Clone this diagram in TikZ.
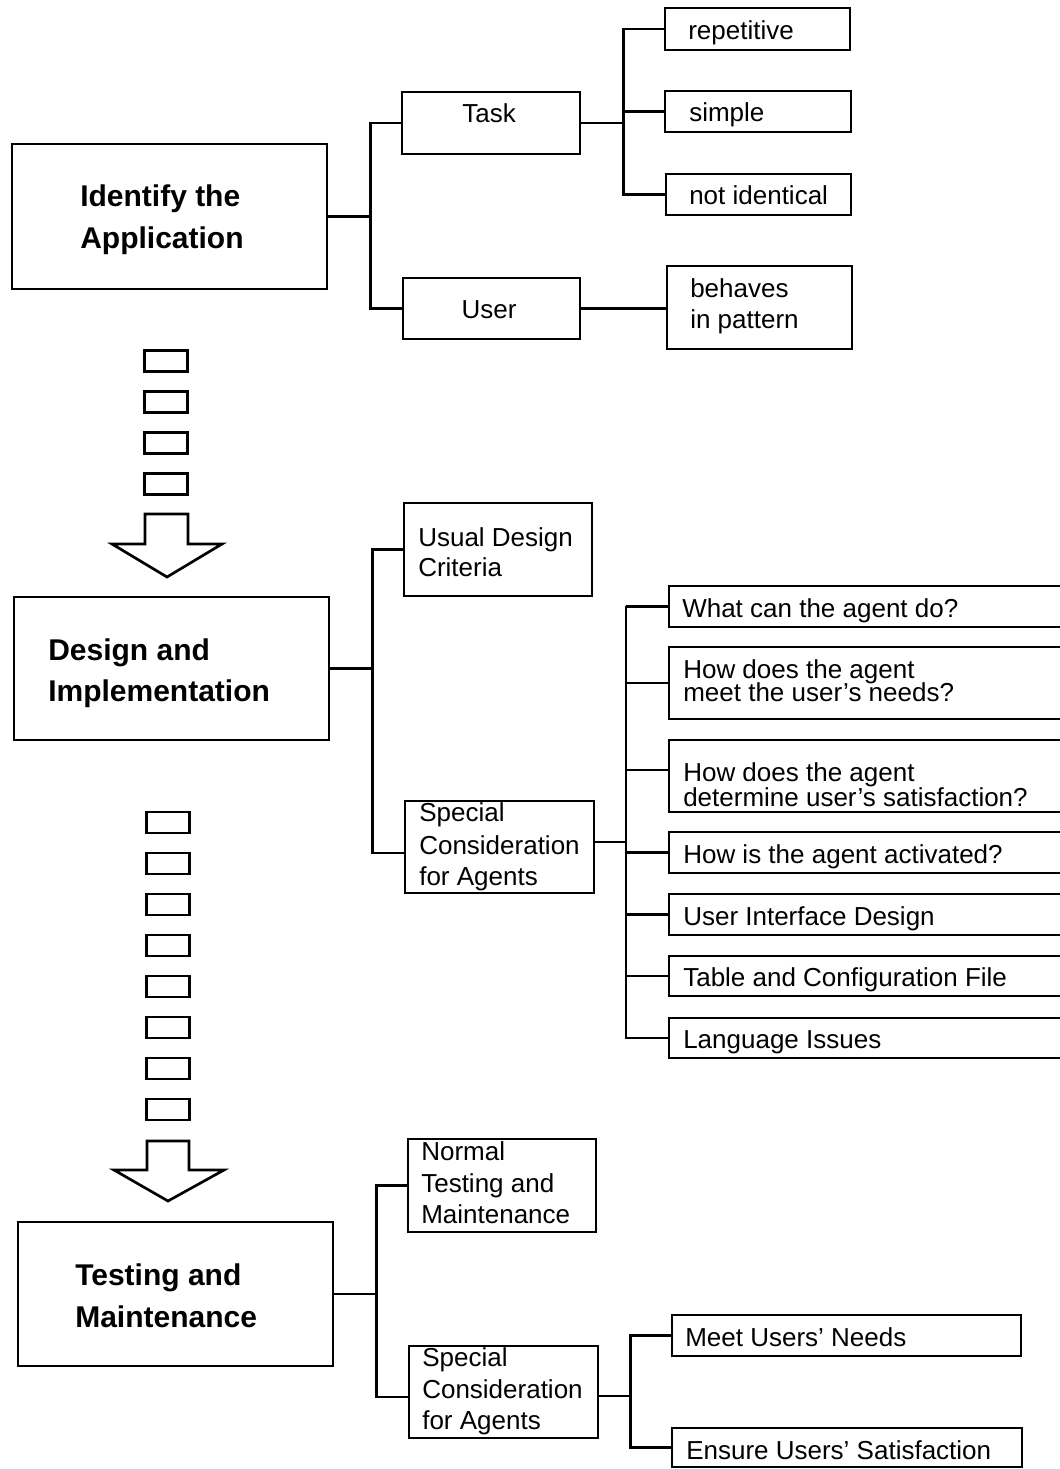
\documentclass[tikz,border=0pt]{standalone}
\usepackage{fontspec}
\setmainfont{Liberation Sans}
\usetikzlibrary{fit}
\begin{document}
\begin{tikzpicture}[x=0.75pt,y=-0.75pt,
  lw/.style={line width=2pt},
  box/.style={draw, lw, inner sep=0pt},
  txt/.style={inner sep=0pt, anchor=base west, font=\fontsize{19.5pt}{23pt}\selectfont},
  ctxt/.style={txt, anchor=base},
  ttl/.style={inner sep=0pt, anchor=base west, font=\fontsize{22.5pt}{27pt}\selectfont\bfseries},
  wire/.style={lw},
  gapbox/.style={draw, lw, minimum width=32.25pt, minimum height=15.75pt, inner sep=0pt},
  bigarrow/.style={draw, lw, line join=miter, fill=white}
]
% page
\fill[white] (0,0) rectangle (1059,1469);
\useasboundingbox (0,0) rectangle (1059,1469);

% ---------- stage 1: identify the application ----------
\node[box, fit={(12,144) (327,289)}] (ident) {};
\node[ttl] (ident-a) at (80,207) {Identify the};
\node[ttl] (ident-b) at (80,249) {Application};

\node[box, fit={(402,92) (580,154)}] (task) {};
\node[ctxt] (task-t) at (489,123) {Task};
\node[box, fit={(403,278) (580,339)}] (user) {};
\node[ctxt] (user-t) at (489,319) {User};

\node[box, fit={(665,8) (850,50)}] (rep) {};
\node[txt] (rep-t) at (688,40) {repetitive};
\node[box, fit={(665,91) (851,132)}] (simple) {};
\node[txt] (simple-t) at (689,122) {simple};
\node[box, fit={(666,174) (851,215)}] (noti) {};
\node[txt] (noti-t) at (689,205) {not identical};
\node[box, fit={(667,266) (852,349)}] (beh) {};
\node[txt] (beh-a) at (690,298) {behaves};
\node[txt] (beh-b) at (690,329) {in pattern};

\draw[wire] (ident.east) -- ++(42,0) coordinate (j1);
\draw[wire] (task.west) -| (j1) |- (user.west);
\draw[wire] (task.east) -- ++(42,0) coordinate (j2);
\draw[wire] (rep.west) -| (j2) |- (noti.west);
\draw[wire] (simple.west) -- (simple.west -| j2);
\draw[wire] (user.east) -- (user.east -| beh.west);

% ---------- transition 1 ----------
\foreach \i in {0,...,3}
  \node[gapbox] (ga\i) at (166,{361+41*\i}) {};
\draw[bigarrow] (145,514) -- (188,514) -- (188,544) -- (222,544) -- (167,577)
  -- (112,544) -- (145,544) -- cycle;

% ---------- stage 2: design and implementation ----------
\node[box, fit={(14,597) (329,740)}] (design) {};
\node[ttl] (design-a) at (48,660) {Design and};
\node[ttl] (design-b) at (48,701) {Implementation};

\node[box, fit={(404,503) (592,596)}] (usual) {};
\node[txt] (usual-a) at (418,546) {Usual Design};
\node[txt] (usual-b) at (418,576) {Criteria};

\node[box, fit={(405,801) (594,893)}] (spec1) {};
\node[txt] (spec1-a) at (419,821) {Special};
\node[txt] (spec1-b) at (419,854) {Consideration};
\node[txt] (spec1-c) at (419,885) {for Agents};

\node[box, fit={(669,586) (1066,627)}] (what) {};
\node[txt] (what-t) at (682,617) {What can the agent do?};
\node[box, fit={(669,647) (1066,719)}] (howa) {};
\node[txt] (howa-a) at (683,678) {How does the agent};
\node[txt] (howa-b) at (683,701) {meet the user’s needs?};
\node[box, fit={(669,740) (1066,812)}] (howb) {};
\node[txt] (howb-a) at (683,781) {How does the agent};
\node[txt] (howb-b) at (683,806) {determine user’s satisfaction?};
\node[box, fit={(669,832) (1066,873)}] (act) {};
\node[txt] (act-t) at (683,863) {How is the agent activated?};
\node[box, fit={(669,894) (1066,935)}] (ui) {};
\node[txt] (ui-t) at (683,925) {User Interface Design};
\node[box, fit={(669,956) (1066,996)}] (table) {};
\node[txt] (table-t) at (683,986) {Table and Configuration File};
\node[box, fit={(669,1018) (1066,1058)}] (lang) {};
\node[txt] (lang-t) at (683,1048) {Language Issues};

\draw[wire] (design.east) -- ++(42,0) coordinate (j3);
\draw[wire] (usual.west) -| (j3) |- ([yshift=-4.5pt]spec1.west);
\coordinate (j4) at (626,606);
\draw[wire] (what.west) -| (j4) |- (lang.west);
\draw[wire] (howa.west) -- (howa.west -| j4);
\draw[wire] ([yshift=4.5pt]howb.west) -- ([yshift=4.5pt]howb.west -| j4);
\draw[wire] (act.west) -- (act.west -| j4);
\draw[wire] (ui.west) -- (ui.west -| j4);
\draw[wire] (table.west) -- (table.west -| j4);
\draw[wire] ([yshift=3.75pt]spec1.east) -- ([yshift=3.75pt]spec1.east -| j4);

% ---------- transition 2 ----------
\foreach \i in {0,...,7}
  \node[gapbox] (gb\i) at (168,{822.5+41*\i}) {};
\draw[bigarrow] (147,1141) -- (189,1141) -- (189,1170) -- (224,1170) -- (168,1201)
  -- (114,1170) -- (147,1170) -- cycle;

% ---------- stage 3: testing and maintenance ----------
\node[box, fit={(18,1222) (333,1366)}] (test) {};
\node[ttl] (test-a) at (75,1285) {Testing and};
\node[ttl] (test-b) at (75,1327) {Maintenance};

\node[box, fit={(408,1139) (596,1232)}] (normal) {};
\node[txt] (normal-a) at (421,1160) {Normal};
\node[txt] (normal-b) at (421,1192) {Testing and};
\node[txt] (normal-c) at (421,1223) {Maintenance};

\node[box, fit={(409,1346) (598,1438)}] (spec2) {};
\node[txt] (spec2-a) at (422,1366) {Special};
\node[txt] (spec2-b) at (422,1398) {Consideration};
\node[txt] (spec2-c) at (422,1429) {for Agents};

\node[box, fit={(672,1315) (1021,1356)}] (meet) {};
\node[txt] (meet-t) at (685,1346) {Meet Users’ Needs};
\node[box, fit={(672,1428) (1022,1467)}] (ensure) {};
\node[txt] (ensure-t) at (686,1459) {Ensure Users’ Satisfaction};

\draw[wire] (test.east) -- ++(42,0) coordinate (j5);
\draw[wire] (normal.west) -| (j5) |- ([yshift=-3.75pt]spec2.west);
\draw[wire] ([yshift=-3pt]spec2.east) -- ++(31,0) coordinate (j6);
\draw[wire] (meet.west) -| (j6) |- (ensure.west);
\end{tikzpicture}
\end{document}
